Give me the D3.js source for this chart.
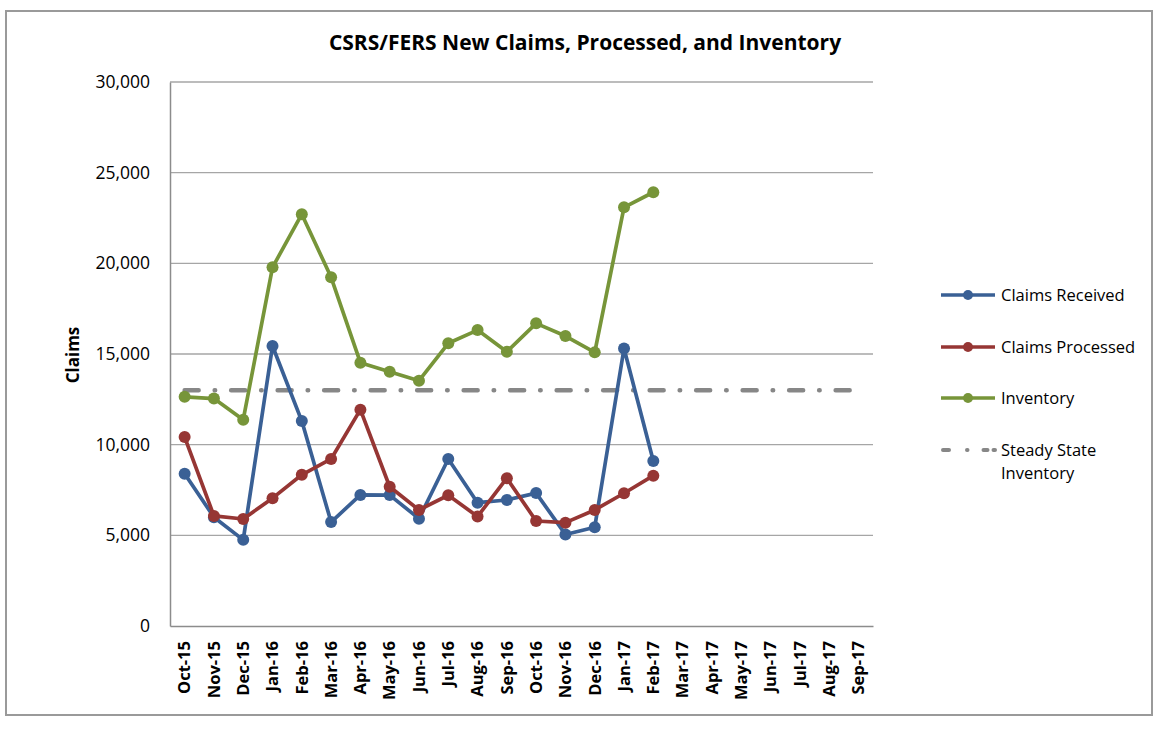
<!DOCTYPE html>
<html>
<head>
<meta charset="utf-8">
<script src="https://cdn.jsdelivr.net/npm/d3@7"></script>
<style>
  body { margin: 0; background: #fff; }
  text { font-family: "Open Sans", "Liberation Sans", sans-serif; fill: #000; }
</style>
</head>
<body>
<svg id="chart" width="1170" height="730"></svg>
<script>
// months on the x axis
const months = ["Oct-15","Nov-15","Dec-15","Jan-16","Feb-16","Mar-16","Apr-16","May-16","Jun-16",
  "Jul-16","Aug-16","Sep-16","Oct-16","Nov-16","Dec-16","Jan-17","Feb-17","Mar-17","Apr-17",
  "May-17","Jun-17","Jul-17","Aug-17","Sep-17"]

const received  = [8400, 6000, 4750, 15440, 11300, 5730, 7230, 7220, 5920, 9210, 6800, 6950, 7330, 5050, 5450, 15300, 9100]
const processed = [10420, 6070, 5900, 7050, 8340, 9210, 11930, 7680, 6400, 7210, 6040, 8150, 5790, 5700, 6400, 7320, 8290]
const inventory = [12640, 12540, 11380, 19780, 22710, 19230, 14520, 14020, 13530, 15590, 16320, 15130, 16690, 15990, 15090, 23090, 23920]
const steadyState = 13000

const yTicks = [0, 5000, 10000, 15000, 20000, 25000, 30000]

const series = [
  { name: "Claims Received", values: received, color: "#3A6095" },
  { name: "Claims Processed", values: processed, color: "#963634" },
  { name: "Inventory", values: inventory, color: "#779539" }
]

let svg = d3.select("#chart")

// outer frame
svg.append("rect")
    .attr("x", 6).attr("y", 11)
    .attr("width", 1146).attr("height", 704)
    .attr("fill", "none")
    .attr("stroke", "#9a9a9a")
    .attr("stroke-width", 2)

let plotLeft = 170, plotRight = 873, plotTop = 82, plotBottom = 626

let x = d3.scaleBand().domain(months).range([plotLeft, plotRight])
let y = d3.scaleLinear().domain([0, 30000]).range([plotBottom, plotTop])
let cx = d => x(d) + x.bandwidth() / 2

// gridlines
svg.append("g")
  .selectAll("line")
  .data(yTicks.slice(1))
  .enter().append("line")
    .attr("x1", plotLeft).attr("x2", plotRight)
    .attr("y1", d => y(d)).attr("y2", d => y(d))
    .attr("stroke", "#a6a6a6")
    .attr("stroke-width", 1.3)

// y axis
let yAxis = svg.append("g")
    .attr("transform", "translate(" + plotLeft + ",0)")
    .call(d3.axisLeft(y).tickValues(yTicks).tickSize(0).tickPadding(20).tickFormat(d3.format(",")))
yAxis.select(".domain").attr("stroke", "#8c8c8c").attr("stroke-width", 1.5)
yAxis.selectAll("text")
    .style("font-size", "17.5px")
    .style("font-family", "'Open Sans', sans-serif")

// x axis
let xAxis = svg.append("g")
    .attr("transform", "translate(0," + plotBottom + ")")
    .call(d3.axisBottom(x).tickSize(0).tickPadding(0))
xAxis.select(".domain").attr("stroke", "#8c8c8c").attr("stroke-width", 1.5)
xAxis.selectAll("text")
    .style("font-size", "16.5px")
    .style("font-weight", "bold")
    .style("font-family", "'Open Sans', sans-serif")
    .attr("text-anchor", "end")
    .attr("transform", "rotate(-90)")
    .attr("x", -15)
    .attr("y", 0)
    .attr("dy", "0.35em")

// steady state line
svg.append("line")
    .attr("x1", cx(months[0]))
    .attr("x2", cx(months[months.length - 1]))
    .attr("y1", y(steadyState)).attr("y2", y(steadyState))
    .attr("stroke", "#878787")
    .attr("stroke-width", 4.5)
    .attr("stroke-linecap", "round")
    .attr("stroke-dasharray", "14,16,0.5,16")

// data lines
let line = d3.line()
    .x((d, i) => cx(months[i]))
    .y(d => y(d))

for (let s of series) {
  svg.append("path")
      .datum(s.values)
      .attr("d", line)
      .attr("fill", "none")
      .attr("stroke", s.color)
      .attr("stroke-width", 3.7)
      .attr("stroke-linejoin", "round")

  svg.append("g")
    .selectAll("circle")
    .data(s.values)
    .enter().append("circle")
      .attr("cx", (d, i) => cx(months[i]))
      .attr("cy", d => y(d))
      .attr("r", 6)
      .attr("fill", s.color)
}

// title
svg.append("text")
    .attr("x", 585).attr("y", 50)
    .attr("text-anchor", "middle")
    .style("font-size", "21px")
    .style("font-weight", "bold")
    .text("CSRS/FERS New Claims, Processed, and Inventory")

// y axis title
svg.append("text")
    .attr("transform", "translate(79,355) rotate(-90)")
    .attr("text-anchor", "middle")
    .style("font-size", "17px")
    .style("font-weight", "bold")
    .text("Claims")

// legend
let legendY = [295, 347, 398, 450]
let legend = svg.append("g")
series.forEach((s, i) => {
  legend.append("line")
      .attr("x1", 941).attr("x2", 995)
      .attr("y1", legendY[i]).attr("y2", legendY[i])
      .attr("stroke", s.color).attr("stroke-width", 3.7)
  legend.append("circle")
      .attr("cx", 968).attr("cy", legendY[i]).attr("r", 5)
      .attr("fill", s.color)
  legend.append("text")
      .attr("x", 1001).attr("y", legendY[i]).attr("dy", "0.35em")
      .style("font-size", "16.5px")
      .text(s.name)
})
legend.append("line")
    .attr("x1", 943).attr("x2", 995)
    .attr("y1", legendY[3]).attr("y2", legendY[3])
    .attr("stroke", "#878787").attr("stroke-width", 4)
    .attr("stroke-linecap", "round")
    .attr("stroke-dasharray", "6,18,0.5,16,4")
legend.append("text")
    .attr("x", 1001).attr("y", legendY[3]).attr("dy", "0.35em")
    .style("font-size", "16.5px")
    .text("Steady State")
legend.append("text")
    .attr("x", 1001).attr("y", legendY[3] + 23).attr("dy", "0.35em")
    .style("font-size", "16.5px")
    .text("Inventory")
</script>
</body>
</html>
